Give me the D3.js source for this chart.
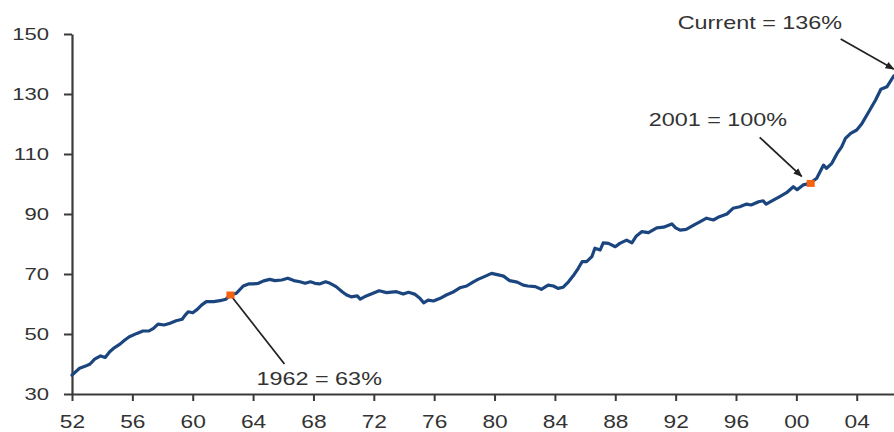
<!DOCTYPE html>
<html>
<head>
<meta charset="utf-8">
<script src="https://cdn.jsdelivr.net/npm/d3@7"></script>
<style>
  html, body { margin: 0; padding: 0; background: #fff; }
  svg { display: block; }
  text { font-family: "Liberation Sans", Arial, sans-serif; fill: #333; }
</style>
</head>
<body>
<svg id="chart" width="894" height="432"></svg>
<script>
// ---- data ----
const years = [
  1952.0, 1952.5, 1952.9, 1953.2, 1953.5, 1953.9, 1954.2, 1954.5, 1954.8, 1955.2,
  1955.5, 1955.8, 1956.3, 1956.7, 1957.1, 1957.4, 1957.7, 1958.1, 1958.5, 1958.9,
  1959.3, 1959.5, 1959.7, 1960.0, 1960.3, 1960.6, 1960.9, 1961.4, 1961.8, 1962.2,
  1962.5, 1962.9, 1963.35, 1963.7, 1964.0, 1964.35, 1964.7, 1965.1, 1965.45, 1965.9,
  1966.3, 1966.7, 1967.1, 1967.45, 1967.8, 1968.1, 1968.4, 1968.8, 1969.1, 1969.5,
  1969.9, 1970.2, 1970.5, 1970.9, 1971.1, 1971.5, 1971.95, 1972.35, 1972.85, 1973.5,
  1973.95, 1974.3, 1974.7, 1975.05, 1975.3, 1975.6, 1975.95, 1976.4, 1976.8, 1977.3,
  1977.7, 1978.15, 1978.6, 1978.9, 1979.4, 1979.8, 1980.25, 1980.6, 1981.0, 1981.5,
  1981.9, 1982.2, 1982.7, 1983.1, 1983.55, 1983.9, 1984.2, 1984.55, 1984.9, 1985.2,
  1985.55, 1985.8, 1986.1, 1986.45, 1986.65, 1987.0, 1987.2, 1987.55, 1988.0, 1988.3,
  1988.75, 1989.1, 1989.4, 1989.75, 1990.2, 1990.75, 1991.2, 1991.75, 1992.0, 1992.3,
  1992.7, 1993.2, 1993.6, 1994.05, 1994.5, 1994.9, 1995.4, 1995.8, 1996.25, 1996.7,
  1997.0, 1997.5, 1997.8, 1998.0, 1998.5, 1998.9, 1999.35, 1999.8, 2000.05, 2000.45,
  2000.9, 2001.35, 2001.8, 2002.0, 2002.35, 2002.7, 2003.0, 2003.25, 2003.6, 2004.0,
  2004.35, 2004.8, 2005.25, 2005.6, 2006.0, 2006.45
];
const values = [
  36.3, 38.6, 39.3, 40.0, 41.6, 42.7, 42.2, 44.1, 45.4, 46.7,
  48.0, 49.1, 50.2, 51.0, 51.0, 51.9, 53.3, 53.0, 53.6, 54.4,
  54.9, 56.3, 57.4, 57.1, 58.2, 59.7, 60.8, 60.8, 61.1, 61.6,
  63.0, 63.6, 66.0, 66.7, 66.7, 66.9, 67.7, 68.2, 67.8, 68.0,
  68.6, 67.8, 67.4, 66.9, 67.4, 66.9, 66.7, 67.4, 66.9, 65.8,
  64.1, 63.0, 62.4, 62.7, 61.6, 62.7, 63.6, 64.4, 63.8, 64.1,
  63.3, 63.9, 63.3, 61.9, 60.4, 61.3, 61.0, 61.9, 63.0, 64.1,
  65.4, 66.0, 67.4, 68.2, 69.3, 70.2, 69.7, 69.3, 67.8, 67.3,
  66.3, 66.0, 65.8, 64.9, 66.3, 66.0, 65.2, 65.6, 67.4, 69.3,
  71.9, 74.1, 74.1, 75.8, 78.6, 78.0, 80.4, 80.2, 79.1, 80.2,
  81.3, 80.4, 82.7, 84.1, 83.8, 85.4, 85.6, 86.7, 85.4, 84.6,
  84.9, 86.3, 87.4, 88.6, 88.0, 89.1, 90.0, 91.9, 92.4, 93.3,
  93.0, 94.1, 94.4, 93.3, 94.7, 95.8, 97.1, 99.1, 98.1, 99.7,
  100.2, 101.9, 106.3, 105.2, 106.9, 110.2, 112.4, 115.2, 116.9, 118.0,
  120.2, 124.1, 128.0, 131.6, 132.4, 136.0
];
const xTickYears = [1952, 1956, 1960, 1964, 1968, 1972, 1976, 1980, 1984, 1988, 1992, 1996, 2000, 2004];
const yTickValues = [30, 50, 70, 90, 110, 130, 150];

// annotated points
const markYears = [1962.5, 2000.95];
const markValues = [63.0, 100.2];
const annoLabels = ["1962 = 63%", "2001 = 100%", "Current = 136%"];
const annoYears = [1962.5, 2000.95, 2006.45];
const annoValues = [63.0, 100.2, 136.0];

(function () {
  const svg = d3.select("#chart");
  const mLeft = 72, mRight = 894, mTop = 34, mBottom = 394;
  const SX = 1.3; // horizontal stretch of the text in the reference

  const x = d3.scaleLinear().domain([1952, 2006.47]).range([mLeft, mRight]);
  const y = d3.scaleLinear().domain([30, 150]).range([mBottom, mTop]);

  function stretchText(sel) {
    sel.selectAll("text").each(function () {
      const t = d3.select(this);
      const tx = +t.attr("x") || 0;
      t.attr("x", tx / SX).attr("transform", `scale(${SX},1)`);
    });
  }

  // y axis
  const gy = svg.append("g")
    .attr("transform", `translate(${mLeft},0)`)
    .call(d3.axisLeft(y).tickValues(yTickValues).tickSize(8).tickSizeOuter(0).tickPadding(15));
  gy.select(".domain").attr("stroke", "#3a3a3a").attr("stroke-width", 2.2);
  gy.selectAll(".tick line").attr("stroke", "#3a3a3a").attr("stroke-width", 2);
  gy.selectAll("text").attr("font-size", 17).attr("fill", "#333")
    .style("font-family", "'Liberation Sans', Arial, sans-serif");
  stretchText(gy);

  // x axis
  const gx = svg.append("g")
    .attr("transform", `translate(0,${mBottom})`)
    .call(d3.axisBottom(x).tickValues(xTickYears)
      .tickFormat(d => String(d % 100).padStart(2, "0"))
      .tickSize(7).tickSizeOuter(0).tickPadding(15));
  gx.select(".domain").attr("stroke", "#3a3a3a").attr("stroke-width", 2.2);
  gx.selectAll(".tick line").attr("stroke", "#3a3a3a").attr("stroke-width", 2);
  gx.selectAll("text").attr("font-size", 17.5).attr("fill", "#333")
    .style("font-family", "'Liberation Sans', Arial, sans-serif");
  stretchText(gx);

  // series line
  const data = years.map((yr, i) => ({ yr, v: values[i] }));
  svg.append("path")
    .datum(data)
    .attr("fill", "none")
    .attr("stroke", "#1b457f")
    .attr("stroke-width", 3.2)
    .attr("stroke-linejoin", "round")
    .attr("stroke-linecap", "round")
    .attr("d", d3.line().x(d => x(d.yr)).y(d => y(d.v)));

  // arrowhead marker
  const defs = svg.append("defs");
  defs.append("marker")
    .attr("id", "arrow")
    .attr("viewBox", "0 0 10 10")
    .attr("refX", 9).attr("refY", 5)
    .attr("markerWidth", 5).attr("markerHeight", 5)
    .attr("orient", "auto")
    .append("path").attr("d", "M0,1 L10,5 L0,9 Z").attr("fill", "#222");

  // leader lines (offsets in px from the annotated data point)
  const leaders = [
    { i: 0, from: [0, 0], to: [54, 69], arrow: false },
    { i: 1, from: [-51, -46], to: [-9, -7], arrow: true },
    { i: 2, from: [-53, -37], to: [0, -7], arrow: true }
  ];
  leaders.forEach(l => {
    const px = x(annoYears[l.i]), py = y(annoValues[l.i]);
    const line = svg.append("line")
      .attr("x1", px + l.from[0]).attr("y1", py + l.from[1])
      .attr("x2", px + l.to[0]).attr("y2", py + l.to[1])
      .attr("stroke", "#222").attr("stroke-width", 1.8);
    if (l.arrow) line.attr("marker-end", "url(#arrow)");
  });

  // orange markers
  svg.selectAll("rect.mark")
    .data(markYears.map((yr, i) => ({ yr, v: markValues[i] })))
    .enter().append("rect")
    .attr("class", "mark")
    .attr("x", d => x(d.yr) - 4)
    .attr("y", d => y(d.v) - 3.5)
    .attr("width", 8).attr("height", 7)
    .attr("fill", "#f5620f");

  // annotation labels (offsets in px from the annotated data point)
  const labelOffsets = [[26, 90], [-162, -57], [-216, -47]];
  annoLabels.forEach((txt, i) => {
    const px = x(annoYears[i]) + labelOffsets[i][0];
    const py = y(annoValues[i]) + labelOffsets[i][1];
    svg.append("text")
      .attr("transform", `translate(${px},${py}) scale(${SX},1)`)
      .attr("font-size", 18)
      .attr("fill", "#333")
      .text(txt);
  });
})();
</script>
</body>
</html>
